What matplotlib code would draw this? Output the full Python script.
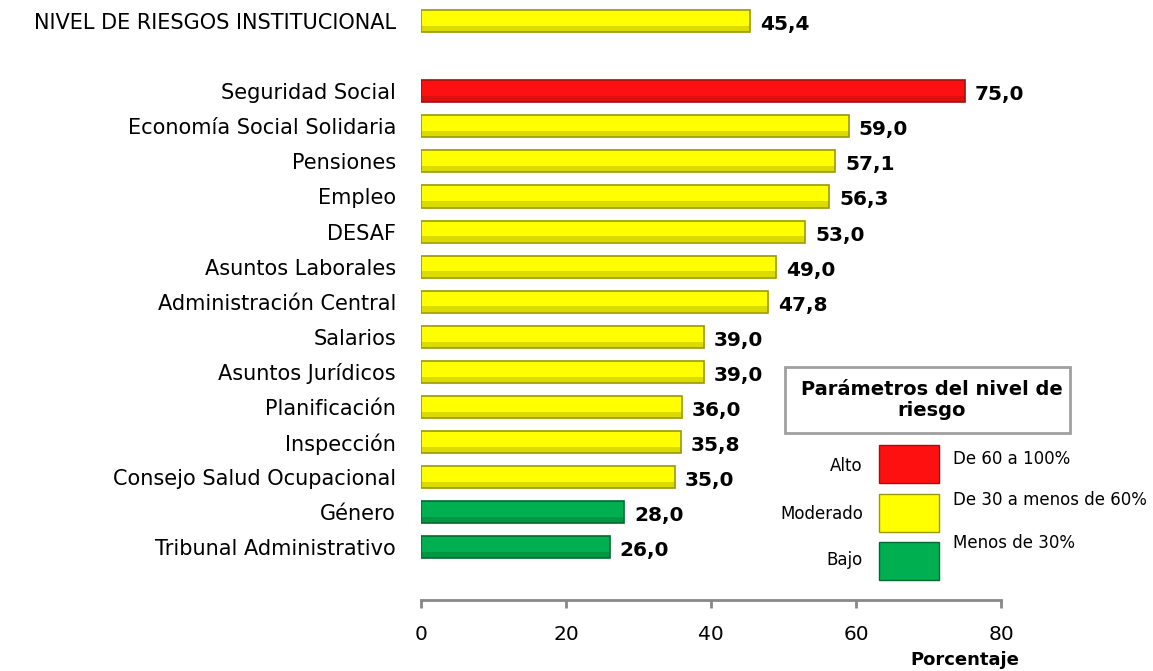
import matplotlib.pyplot as plt
from matplotlib.patches import Rectangle

# data
categorias = ['NIVEL DE RIESGOS INSTITUCIONAL', '',
              'Seguridad Social', 'Economía Social Solidaria', 'Pensiones',
              'Empleo', 'DESAF', 'Asuntos Laborales', 'Administración Central',
              'Salarios', 'Asuntos Jurídicos', 'Planificación', 'Inspección',
              'Consejo Salud Ocupacional', 'Género', 'Tribunal Administrativo']
valores = [45.4, None, 75.0, 59.0, 57.1, 56.3, 53.0, 49.0, 47.8,
           39.0, 39.0, 36.0, 35.8, 35.0, 28.0, 26.0]
etiquetas = ['45,4', '', '75,0', '59,0', '57,1', '56,3', '53,0', '49,0', '47,8',
             '39,0', '39,0', '36,0', '35,8', '35,0', '28,0', '26,0']
niveles = ['Alto', 'Moderado', 'Bajo']
rangos = ['De 60 a 100%', 'De 30 a menos de 60%', 'Menos de 30%']

colores = {'Alto': ('#FF1010', '#A01010'),
           'Moderado': ('#FFFF00', '#9A9A00'),
           'Bajo': ('#00B050', '#006A30')}


def nivel(v):
    if v >= 60:
        return 'Alto'
    if v >= 30:
        return 'Moderado'
    return 'Bajo'


W, H = 1153, 671
fig = plt.figure(figsize=(W / 100, H / 100), dpi=100)
ax = fig.add_axes([421 / W, 1 - 600 / H, 580 / W, 600 / H])

for i, v in enumerate(valores):
    if v is None:
        continue
    cara, borde = colores[nivel(v)]
    ax.barh(i, v, height=0.63, color=cara, edgecolor=borde, linewidth=1.2)
    # darker lower band to mimic the bevel
    ax.barh(i + 0.22, v, height=0.17, color=borde, alpha=0.35, linewidth=0)
    ax.text(v + 1.4, i + 0.1, etiquetas[i], ha='left', va='center',
            fontsize=14.5, fontweight='bold', color='black')

ax.set_ylim(16.5, -0.6)
ax.set_xlim(0, 80)
ax.set_yticks(range(len(categorias)))
ax.set_yticklabels(categorias, fontsize=15)
ax.tick_params(axis='y', length=0, pad=18)
ax.set_xticks([0, 20, 40, 60, 80])
ax.tick_params(axis='x', colors='#888888', length=6, width=2, labelsize=14.5,
               pad=12, labelcolor='black')
for s in ['left', 'right', 'top']:
    ax.spines[s].set_visible(False)
ax.spines['bottom'].set_color('#888888')
ax.spines['bottom'].set_linewidth(2)

fig.text(965 / W, 1 - 660 / H, 'Porcentaje', ha='center', va='center',
         fontsize=13, fontweight='bold')

# parameters box
fig.add_artist(Rectangle((785 / W, 1 - 433 / H), 285 / W, 66 / H,
                         transform=fig.transFigure, facecolor='white',
                         edgecolor='#A0A0A0', linewidth=2))
fig.text(932 / W, 1 - 400 / H, 'Parámetros del nivel de\nriesgo', ha='center',
         va='center', fontsize=14, fontweight='bold', linespacing=1.15)

sw_top = [445, 494, 542]
nivel_y = [466, 514, 560]
rango_y = [459, 500, 543]
for k, n in enumerate(niveles):
    cara, borde = colores[n]
    fig.add_artist(Rectangle((879 / W, 1 - (sw_top[k] + 38) / H), 60 / W, 38 / H,
                             transform=fig.transFigure, facecolor=cara,
                             edgecolor=borde, linewidth=1))
    fig.text(863 / W, 1 - nivel_y[k] / H, n, ha='right', va='center', fontsize=12)
    fig.text(953 / W, 1 - rango_y[k] / H, rangos[k], ha='left', va='center',
             fontsize=12)

fig.savefig('out.png', dpi=100)
